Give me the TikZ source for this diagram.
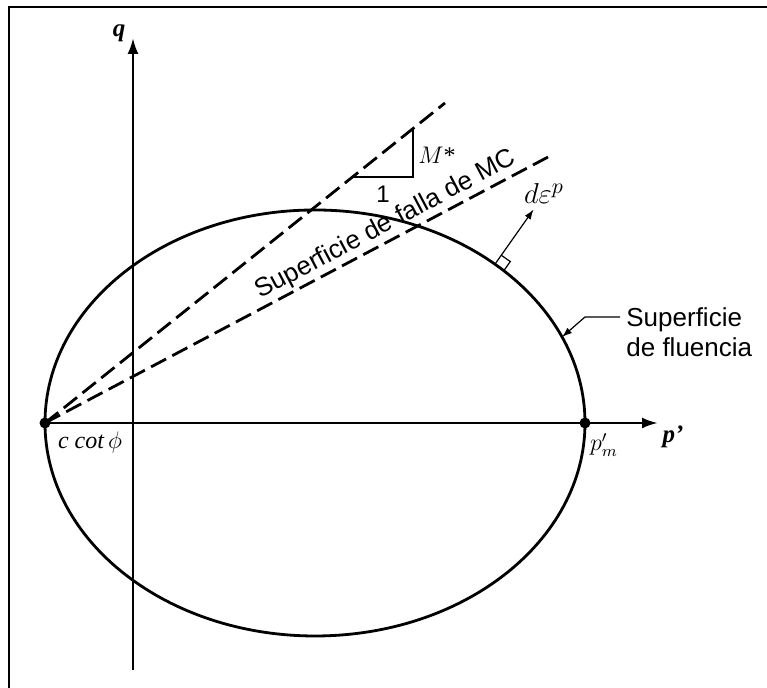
\documentclass[tikz,border=0pt]{standalone}
\usepackage{amsmath, amssymb}
\usepackage{fontspec}
\setmainfont{Liberation Serif}
\setsansfont{Liberation Sans}
\usetikzlibrary{arrows.meta, positioning}

\begin{document}
\begin{tikzpicture}[x=0.5pt, y=0.5pt,
    axisline/.style={line width=1.3pt, -{Latex[length=8pt, width=5.5pt]}},
    slopeline/.style={line width=1.4pt, dash pattern=on 8.5pt off 3.5pt},
    smallarrow/.style={line width=0.6pt, -{Latex[length=5pt, width=3.5pt]}},
    lbl/.style={font=\sffamily\fontsize{13}{15}\selectfont, inner sep=0pt},
    dotpt/.style={circle, fill, inner sep=0pt, minimum size=5.5pt}]
    \useasboundingbox (0,0) rectangle (767,688);
    % frame
    \draw[line width=1pt] (9,0) -- (9,681) -- (767,681);
    % yield surface
    \coordinate (ctr) at (315,265);
    \draw[line width=1.4pt] (ctr) ellipse [x radius=270, y radius=213];
    \node[dotpt] (c) at (45,265) {};
    \node[dotpt] (pm) at (585,265) {};
    % axes
    \coordinate (qbot) at (133,18);
    \coordinate (qtop) at (133,650);
    \coordinate (ptip) at (658,265);
    \draw[axisline] (qbot) -- (qtop);
    \draw[axisline] (c.center) -- (ptip);
    \node[font=\bfseries\itshape\fontsize{12.5}{15}\selectfont] (qlab) at (119,655) {q};
    \node[font=\bfseries\itshape\fontsize{12.5}{15}\selectfont] (plab) at (673,251) {p'};
    \node[font=\fontsize{12}{14}\selectfont] (pmlab) at (604,243) {$p'_m$};
    \node[font=\fontsize{12}{14}\selectfont] (clab) at (90,245) {\itshape c cot\,$\phi$};
    % failure lines
    \coordinate (mtop) at (445,585);
    \coordinate (mctop) at (550,532);
    \draw[slopeline] (c.center) -- (mtop);
    \draw[slopeline] (c.center) -- (mctop);
    \node[lbl, rotate=27.9, anchor=base] (mclab) at (389,457) {Superficie de falla de MC};
    % slope triangle
    \coordinate (tri1) at (353,511);
    \coordinate (tri2) at (413,511);
    \coordinate (tri3) at (413,560);
    \draw[line width=0.6pt] (tri1) -- (tri2) -- (tri3);
    \node[font=\sffamily\fontsize{12}{14}\selectfont] (one) at (383,494) {1};
    \node[font=\fontsize{12}{14}\selectfont] (mlab) at (437,533) {$M$*};
    % plastic strain increment
    \path (ctr) ++(48.2:270 and 213) coordinate (yp);
    \draw[smallarrow] (yp) -- ++(54.8:67) coordinate (deps);
    \draw[line width=0.6pt] (yp) ++(54.8:11) -- ++(-35.2:11) -- ++(-125.2:11);
    \node[font=\fontsize{15.5}{17}\selectfont] (dlab) at (544,494) {$d\varepsilon^p$};
    % yield surface label
    \node[lbl, align=left, anchor=north west] (flu) at (626,381) {Superficie\\de fluencia};
    \path (ctr) ++(23.8:270 and 213) coordinate (fluhit);
    \coordinate (lead) at (585,371);
    \draw[smallarrow] ([xshift=-3pt, yshift=-5pt]flu.north west) -- (lead) -- (fluhit);
\end{tikzpicture}
\end{document}
